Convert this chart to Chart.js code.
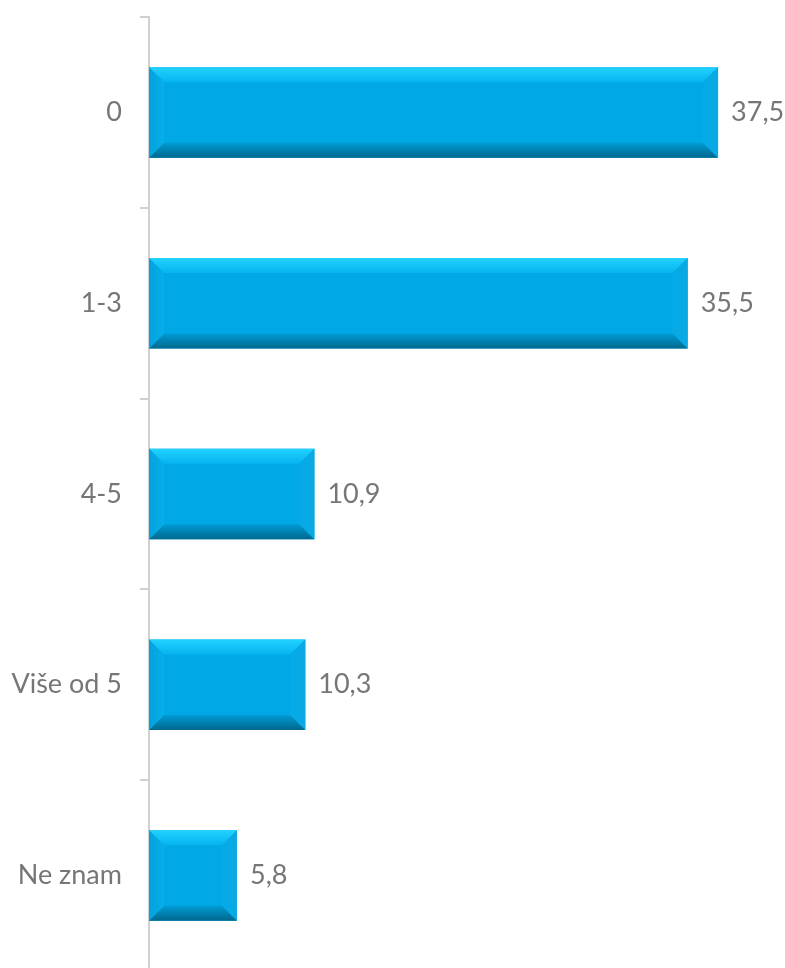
<!DOCTYPE html>
<html>
<head>
<meta charset="utf-8">
<script src="https://cdn.jsdelivr.net/npm/chart.js@4"></script>
<style>
    html, body { margin: 0; padding: 0; background: #fff; overflow: hidden; }
    #wrap { width: 785px; height: 1022px; margin-top: -17px; }
</style>
</head>
<body>
<div id="wrap"><canvas id="barChart"></canvas></div>
<script>
// Data
const categories = ['0', '1-3', '4-5', 'Više od 5', 'Ne znam'];
const values = [37.5, 35.5, 10.9, 10.3, 5.8];
const valueLabels = ['37,5', '35,5', '10,9', '10,3', '5,8'];

const textColor = '#767676';
const axisColor = '#d0d0d0';
const fontFamily = 'Lato, "Open Sans", sans-serif';

// Bevel look of the bars, drawn over each bar element
const bevelPlugin = {
    id: 'bevel',
    afterDatasetsDraw(chart) {
        const ctx = chart.ctx;
        const meta = chart.getDatasetMeta(0);
        const b = 15;
        meta.data.forEach((bar) => {
            const p = bar.getProps(['x', 'y', 'base', 'height'], true);
            const left = Math.min(p.base, p.x);
            const right = Math.max(p.base, p.x);
            const top = p.y - p.height / 2;
            const bottom = p.y + p.height / 2;
            ctx.save();

            // top edge
            let g = ctx.createLinearGradient(0, top, 0, top + b);
            g.addColorStop(0, '#22d2ff');
            g.addColorStop(1, '#06b4ef');
            ctx.fillStyle = g;
            ctx.beginPath();
            ctx.moveTo(left, top);
            ctx.lineTo(right, top);
            ctx.lineTo(right - b, top + b);
            ctx.lineTo(left + b, top + b);
            ctx.closePath();
            ctx.fill();

            // bottom edge
            g = ctx.createLinearGradient(0, bottom - b, 0, bottom);
            g.addColorStop(0, '#009bd4');
            g.addColorStop(1, '#00688e');
            ctx.fillStyle = g;
            ctx.beginPath();
            ctx.moveTo(left, bottom);
            ctx.lineTo(right, bottom);
            ctx.lineTo(right - b, bottom - b);
            ctx.lineTo(left + b, bottom - b);
            ctx.closePath();
            ctx.fill();

            // left edge
            g = ctx.createLinearGradient(left, 0, left + b, 0);
            g.addColorStop(0, '#03a2dc');
            g.addColorStop(1, '#07aeea');
            ctx.fillStyle = g;
            ctx.beginPath();
            ctx.moveTo(left, top);
            ctx.lineTo(left + b, top + b);
            ctx.lineTo(left + b, bottom - b);
            ctx.lineTo(left, bottom);
            ctx.closePath();
            ctx.fill();

            // right edge
            g = ctx.createLinearGradient(right - b, 0, right, 0);
            g.addColorStop(0, '#05aae6');
            g.addColorStop(1, '#0aa9e4');
            ctx.fillStyle = g;
            ctx.beginPath();
            ctx.moveTo(right, top);
            ctx.lineTo(right - b, top + b);
            ctx.lineTo(right - b, bottom - b);
            ctx.lineTo(right, bottom);
            ctx.closePath();
            ctx.fill();

            ctx.restore();
        });
    }
};

// Value labels at the end of each bar
const valueLabelPlugin = {
    id: 'valueLabels',
    afterDatasetsDraw(chart) {
        const ctx = chart.ctx;
        const meta = chart.getDatasetMeta(0);
        ctx.save();
        ctx.font = '27px ' + fontFamily;
        ctx.fillStyle = textColor;
        ctx.textAlign = 'left';
        ctx.textBaseline = 'middle';
        meta.data.forEach((bar, i) => {
            ctx.fillText(valueLabels[i], bar.x + 13, bar.y);
        });
        ctx.restore();
    }
};

const ctx = document.getElementById('barChart').getContext('2d');
const barChart = new Chart(ctx, {
    type: 'bar',
    data: {
        labels: categories,
        datasets: [{
            data: values,
            backgroundColor: '#00a9e6',
            borderWidth: 0,
            barPercentage: 0.95,
            categoryPercentage: 0.5
        }]
    },
    options: {
        indexAxis: 'y',
        responsive: true,
        maintainAspectRatio: false,
        animation: false,
        layout: {
            padding: { top: 15, right: 29, bottom: 0, left: 0 }
        },
        scales: {
            x: {
                display: false,
                min: 0,
                max: 40
            },
            y: {
                afterFit: (scale) => { scale.width = 149; },
                border: { color: axisColor, width: 2 },
                grid: {
                    drawOnChartArea: false,
                    drawTicks: true,
                    tickLength: 9,
                    color: axisColor,
                    lineWidth: 2
                },
                ticks: {
                    color: textColor,
                    padding: 18,
                    font: { family: fontFamily, size: 27 }
                }
            }
        },
        plugins: {
            legend: { display: false },
            tooltip: { enabled: false }
        }
    },
    plugins: [bevelPlugin, valueLabelPlugin]
});
</script>
</body>
</html>
